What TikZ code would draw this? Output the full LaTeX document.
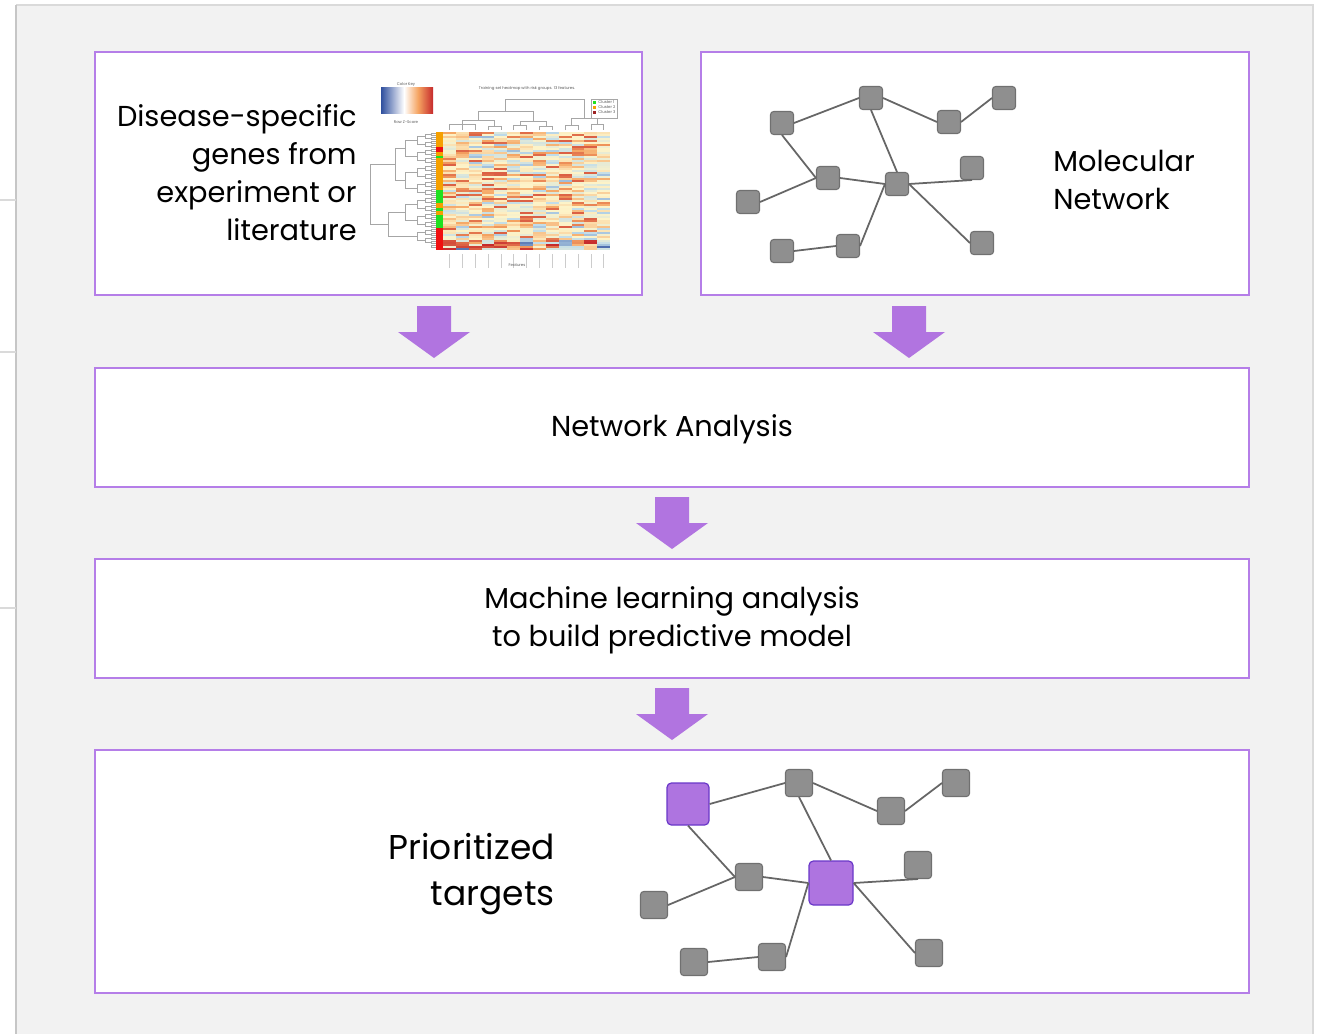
\documentclass[tikz,border=0pt]{standalone}
\usepackage{fontspec}
\setmainfont{Poppins}
\usetikzlibrary{positioning}
\newcommand\pxu{0.02cm}
\definecolor{bggray}{HTML}{F2F2F2}
\definecolor{bgline}{HTML}{DADADA}
\definecolor{panelpurple}{HTML}{B57EE8}
\definecolor{arrowpurple}{HTML}{B174E0}
\definecolor{nodegray}{HTML}{8F8F8F}
\definecolor{nodeedge}{HTML}{707070}
\definecolor{hubpurple}{HTML}{AE74E0}
\definecolor{hubedge}{HTML}{6A38C8}
\definecolor{linkgray}{HTML}{666666}
\definecolor{hmy}{HTML}{FDF3C8}
\definecolor{hmo}{HTML}{F5A462}
\definecolor{hmr}{HTML}{C62A2C}
\definecolor{hmlb}{HTML}{BFDCEB}
\definecolor{hmdb}{HTML}{2F4F9E}
\definecolor{sideorange}{HTML}{F5A000}
\definecolor{sidered}{HTML}{F01010}
\definecolor{sidegreen}{HTML}{20E020}
\tikzset{
  panel/.style={draw=panelpurple, line width=1.2pt, fill=white, inner sep=0pt, outer sep=0pt},
  txt/.style={inner sep=0pt, font=\fontsize{16.4}{21.6}\selectfont},
  bigtxt/.style={inner sep=0pt, font=\fontsize{19.6}{26.2}\selectfont},
  gnode/.style={draw=nodeedge, fill=nodegray, line width=0.6pt, rounded corners=1.8pt,
    minimum size=23*\pxu, inner sep=0pt},
  bnode/.style={gnode, minimum size=27*\pxu},
  hnode/.style={draw=hubedge, fill=hubpurple, line width=0.7pt, rounded corners=2.5pt,
    minimum size=42*\pxu, inner sep=0pt},
  link/.style={draw=linkgray, line width=1pt},
  dendro/.style={draw=gray!70, line width=0.25pt},
  tiny/.style={inner sep=0pt, text=gray!70!black, font=\fontsize{2.2}{3}\selectfont},
  blockarrow/.pic={
    \fill[arrowpurple] (-17,0) -- (17,0) -- (17,26) -- (36,26) -- (0,52)
      -- (-36,26) -- (-17,26) -- cycle;
  }
}

\begin{document}
\begin{tikzpicture}[x=\pxu, y=-\pxu]
\useasboundingbox (0,0) rectangle (1324,1034);
% page background
\fill[white] (0,0) rectangle (1324,1034);
\fill[bggray] (16,5) rectangle (1313,1034);
\draw[bgline, line width=0.9pt] (16,5) -- (1313,5) -- (1313,1034);
\draw[gray!45, line width=0.9pt] (16,5) -- (16,1034);
\foreach \yy in {200,352,608}
  \draw[bgline, line width=0.8pt] (0,\yy) -- (16,\yy);

% panels
\node[panel, minimum width=547*\pxu, minimum height=243*\pxu] (genes) at (368.5,173.5) {};
\node[panel, minimum width=548*\pxu, minimum height=243*\pxu] (molnet) at (975,173.5) {};
\node[panel, minimum width=1154*\pxu, minimum height=119*\pxu] (netan) at (672,427.5) {};
\node[panel, minimum width=1154*\pxu, minimum height=119*\pxu] (ml) at (672,618.5) {};
\node[panel, minimum width=1154*\pxu, minimum height=243*\pxu] (targets) at (672,871.5) {};

% arrows
\pic at (434,306) {blockarrow};
\pic at (909,306) {blockarrow};
\pic at (672,497) {blockarrow};
\pic at (672,688) {blockarrow};

% texts
\node[txt, anchor=east, align=right] (genestxt) at (357,173)
  {Disease-specific\\genes from\\experiment or\\literature};
\node[txt, anchor=west, align=left] (molnettxt) at (1053,180) {Molecular\\Network};
\node[txt] (netantxt) at (672,429) {Network Analysis};
\node[txt, align=center] (mltxt) at (672,620) {Machine learning analysis\\to build predictive model};
\node[bigtxt, anchor=east, align=right] (targetstxt) at (555,874) {Prioritized\\targets};

% heatmap picture
\shade[left color=hmdb, right color=white] (381,88) rectangle (404,113);
\shade[left color=white, right color=hmo] (404,88) rectangle (418,113);
\shade[left color=hmo, right color=hmr] (418,88) rectangle (433,113);
\node[tiny] (keytitle) at (406,85) {Color Key};
\node[tiny] (keylabel) at (406,122) {Row Z-Score};
\node[tiny] (hmtitle) at (527,89) {Training set heatmap with risk groups. 13 features.};
\pgfmathsetseed{11}
\foreach \ci in {0,...,12}{
  \foreach \ri in {0,...,58}{
    \pgfmathsetmacro\u{max(-1,min(1,rand+0.12))}
    \pgfmathtruncatemacro\w{(\ri>53?100:78)*(abs(\u)+0.001)^(\ri>53?0.7:1.8)}
    \ifdim\u pt<0pt
      \ifnum\w<50 \edef\hc{hmlb!\the\numexpr2*\w\relax!hmy}%
      \else \edef\hc{hmdb!\the\numexpr2*\w-100\relax!hmlb}\fi
    \else
      \ifnum\w<50 \edef\hc{hmo!\the\numexpr2*\w\relax!hmy}%
      \else \edef\hc{hmr!\the\numexpr2*\w-100\relax!hmo}\fi
    \fi
    \fill[fill=\hc] ({443+12.85*\ci},{132+2*\ri}) rectangle ++(12.9,2.05);
  }
}
\foreach \ya/\yb/\cc in {132/147/sideorange, 147/152/sidered, 152/156/sideorange,
    156/158/sidegreen, 158/190/sideorange, 190/203/sidegreen, 203/208/sideorange,
    208/211/sidegreen, 211/215/sideorange, 215/228/sidegreen, 228/250/sidered}
  \fill[\cc] (436,\ya) rectangle (443,\yb);
% row dendrogram
\foreach \i in {0,...,28}
  \draw[dendro] (436,{133+4*\i}) -- (431,{133+4*\i}) -- (431,{135+4*\i}) -- (436,{135+4*\i});
\foreach \j in {0,...,13}
  \draw[dendro] (431,{134+8*\j}) -- (425,{134+8*\j}) -- (425,{138+8*\j}) -- (431,{138+8*\j});
\foreach \k in {0,...,6}
  \draw[dendro] (425,{136+16*\k}) -- (417,{136+16*\k}) -- (417,{144+16*\k}) -- (425,{144+16*\k});
\foreach \m in {0,...,2}
  \draw[dendro] (417,{140+32*\m}) -- (405,{140+32*\m}) -- (405,{156+32*\m}) -- (417,{156+32*\m});
\draw[dendro] (405,148) -- (395,148) -- (395,180) -- (405,180);
\draw[dendro] (405,212) -- (388,212) -- (388,236) -- (417,236);
\draw[dendro] (395,164) -- (370,164) -- (370,224) -- (388,224);
% column dendrogram
\draw[dendro] (449.4,130) -- (449.4,124) -- (475.1,124) -- (475.1,130);
\draw[dendro] (462.3,130) -- (462.3,124);
\draw[dendro] (488,130) -- (488,126) -- (500.8,126) -- (500.8,130);
\draw[dendro] (462.3,124) -- (462.3,120) -- (494.4,120) -- (494.4,126);
\draw[dendro] (513.6,130) -- (513.6,125) -- (526.5,125) -- (526.5,130);
\draw[dendro] (539.4,130) -- (539.4,126) -- (552.2,126) -- (552.2,130);
\draw[dendro] (520,125) -- (520,121) -- (545.8,121) -- (545.8,126);
\draw[dendro] (478,120) -- (478,111) -- (533,111) -- (533,121);
\draw[dendro] (565.1,130) -- (565.1,125) -- (577.9,125) -- (577.9,130);
\draw[dendro] (590.8,130) -- (590.8,124) -- (603.6,124) -- (603.6,130);
\draw[dendro] (571.5,125) -- (571.5,118) -- (597.2,118) -- (597.2,124);
\draw[dendro] (505.5,111) -- (505.5,99) -- (584.4,99) -- (584.4,118);
\foreach \ci in {0,...,12}
  \draw[dendro, draw=gray!40] ({449.4+12.85*\ci},254) -- ({449.4+12.85*\ci},268);
\node[tiny] (features) at (517,265) {Features};
% cluster legend
\draw[dendro, fill=white] (591,99) rectangle (617,118);
\fill[sidegreen] (593,101) rectangle (596,104);
\fill[sideorange] (593,106) rectangle (596,109);
\fill[hmr!80!black] (593,111) rectangle (596,114);
\node[tiny, anchor=west] (cl1) at (598,102.5) {Cluster 1};
\node[tiny, anchor=west] (cl2) at (598,107.5) {Cluster 2};
\node[tiny, anchor=west] (cl3) at (598,112.5) {Cluster 3};

% molecular network
\node[gnode] (n1) at (782,123) {};
\node[gnode] (n2) at (871,98) {};
\node[gnode] (n3) at (949,122) {};
\node[gnode] (n4) at (1004,98) {};
\node[gnode] (n5) at (828,178) {};
\node[gnode] (n6) at (897,184) {};
\node[gnode] (n7) at (972,168) {};
\node[gnode] (n8) at (748,202) {};
\node[gnode] (n9) at (782,251) {};
\node[gnode] (n10) at (848,246) {};
\node[gnode] (n11) at (982,243) {};
\draw[link] (n1.east) -- (n2.west);
\draw[link] (n2.east) -- (n3.west);
\draw[link] (n3.east) -- (n4.west);
\draw[link] (n1.south) -- (n5.west);
\draw[link] (n8.east) -- (n5.west);
\draw[link] (n5.east) -- (n6.west);
\draw[link] (n2.south) -- (n6.north);
\draw[link] (n6.east) -- (n7.south);
\draw[link] (n6.east) -- (n11.west);
\draw[link] (n10.east) -- (n6.west);
\draw[link] (n9.east) -- (n10.west);

% prioritized network
\node[hnode] (t1) at (688,804) {};
\node[bnode] (t2) at (799,783) {};
\node[bnode] (t3) at (891,811) {};
\node[bnode] (t4) at (956,783) {};
\node[bnode] (t5) at (749,877) {};
\node[hnode, minimum size=44*\pxu] (t6) at (831,883) {};
\node[bnode] (t7) at (918,865) {};
\node[bnode] (t8) at (654,905) {};
\node[bnode] (t9) at (694,962) {};
\node[bnode] (t10) at (772,957) {};
\node[bnode] (t11) at (929,953) {};
\draw[link] (t1.east) -- (t2.west);
\draw[link] (t2.east) -- (t3.west);
\draw[link] (t3.east) -- (t4.west);
\draw[link] (t1.south) -- (t5.west);
\draw[link] (t8.east) -- (t5.west);
\draw[link] (t5.east) -- (t6.west);
\draw[link] (t2.south) -- (t6.north);
\draw[link] (t6.east) -- (t7.south);
\draw[link] (t6.east) -- (t11.west);
\draw[link] (t10.east) -- (t6.west);
\draw[link] (t9.east) -- (t10.west);
\end{tikzpicture}
\end{document}
